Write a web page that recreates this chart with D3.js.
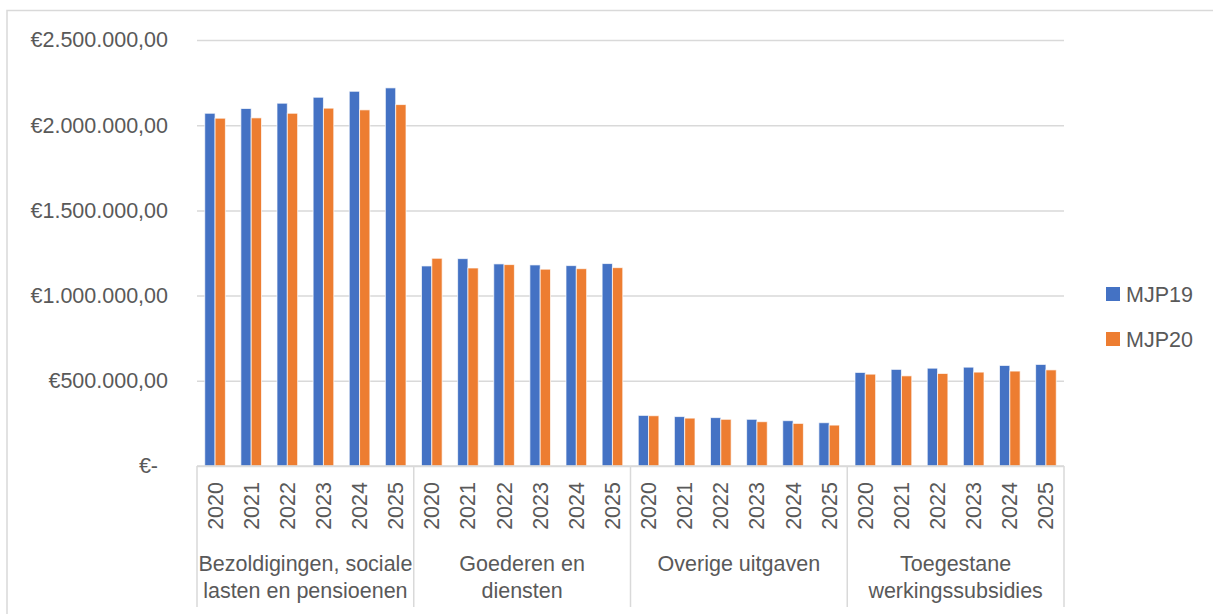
<!DOCTYPE html>
<html>
<head>
<meta charset="utf-8">
<script src="https://cdn.jsdelivr.net/npm/d3@7"></script>
<style>
  body { margin: 0; background: #fff; }
  text { font-family: "Liberation Sans", Arial, sans-serif; fill: #595959; }
</style>
</head>
<body>
<div id="chart"></div>
<script>
var groups = [
    ['Bezoldigingen, sociale', 'lasten en pensioenen'],
    ['Goederen en', 'diensten'],
    ['Overige uitgaven'],
    ['Toegestane', 'werkingssubsidies']
];
var years = ['2020', '2021', '2022', '2023', '2024', '2025'];
var series = ['MJP19', 'MJP20'];
var colors = ['#4472C4', '#ED7D31'];

// values per group, per year
var mjp19 = [
    [2070000, 2098000, 2129000, 2164000, 2199000, 2219000],
    [1174000, 1217000, 1186000, 1180000, 1176000, 1188000],
    [297000, 290000, 284000, 274000, 266000, 254000],
    [549000, 567000, 574000, 580000, 590000, 596000]
];
var mjp20 = [
    [2041000, 2043000, 2070000, 2100000, 2090000, 2121000],
    [1219000, 1162000, 1182000, 1155000, 1158000, 1164000],
    [295000, 281000, 274000, 260000, 250000, 240000],
    [539000, 529000, 543000, 551000, 557000, 564000]
];
var y_ticks = [0, 500000, 1000000, 1500000, 2000000, 2500000];

var W = 1213, H = 614;
var plot = {left: 197, right: 1064, top: 40, bottom: 466};

var svg = d3.select('#chart')
    .append('svg')
        .attr('width', W)
        .attr('height', H);

// chart frame
svg.append('rect')
    .attr('x', 7).attr('y', 10.5)
    .attr('width', W + 10).attr('height', H + 10)
    .attr('fill', 'none')
    .attr('stroke', '#d9d9d9')
    .attr('stroke-width', 1.5);

var y_scale = d3.scaleLinear()
    .domain([0, 2500000])
    .range([plot.bottom, plot.top]);

var x_group = d3.scaleBand()
    .domain(d3.range(groups.length))
    .range([plot.left, plot.right]);

var x_year = d3.scaleBand()
    .domain(years)
    .range([0, x_group.bandwidth()]);

var x_series = d3.scaleBand()
    .domain(series)
    .range([0, x_year.bandwidth()])
    .paddingOuter(0.75);

//grid
svg.append('g')
    .attr('class', 'grid')
    .attr('transform', 'translate(' + plot.left + ',0)')
    .call(d3.axisLeft(y_scale).tickValues(y_ticks).tickSize(-(plot.right - plot.left)).tickFormat(''))
    .call(function(g){
        g.select('.domain').remove();
        g.selectAll('line').attr('stroke', '#d9d9d9').attr('stroke-width', 1.5);
    });

//y labels
var euro = function(d){
    if(d === 0) return '€-';
    return '€' + d3.format(',.2f')(d).replace(/,/g, '#').replace('.', ',').replace(/#/g, '.');
};
svg.append('g')
    .attr('class', 'y-axis')
    .attr('transform', 'translate(168,0)')
    .call(d3.axisLeft(y_scale).tickValues(y_ticks).tickSize(0).tickPadding(0).tickFormat(euro))
    .call(function(g){
        g.select('.domain').remove();
        g.selectAll('text')
            .style('font-size', '21.5px')
            .attr('fill', '#595959')
            .attr('font-family', '"Liberation Sans", Arial, sans-serif')
            .attr('dx', function(d){ return d === 0 ? -10 : 0; });
    });

//bars
var rows = [];
groups.forEach(function(g, gi){
    years.forEach(function(yr, yi){
        rows.push({g: gi, year: yr, s: 'MJP19', v: mjp19[gi][yi]});
        rows.push({g: gi, year: yr, s: 'MJP20', v: mjp20[gi][yi]});
    });
});

svg.selectAll('rect.bar')
    .data(rows)
    .enter()
    .append('rect')
        .attr('class', 'bar')
        .attr('x', function(d){ return x_group(d.g) + x_year(d.year) + x_series(d.s); })
        .attr('y', function(d){ return y_scale(d.v); })
        .attr('width', x_series.bandwidth())
        .attr('height', function(d){ return y_scale(0) - y_scale(d.v); })
        .attr('fill', function(d){ return colors[series.indexOf(d.s)]; })
        .attr('stroke', '#fff')
        .attr('stroke-opacity', 0.7)
        .attr('stroke-width', 1);

//category axis
var axis_g = svg.append('g').attr('class', 'x-axis');
axis_g.append('line')
    .attr('x1', plot.left).attr('x2', plot.right)
    .attr('y1', plot.bottom).attr('y2', plot.bottom)
    .attr('stroke', '#d9d9d9').attr('stroke-width', 1.5);

var bounds = d3.range(groups.length).map(function(i){ return x_group(i); }).concat([plot.right]);
axis_g.selectAll('line.sep')
    .data(bounds)
    .enter()
    .append('line')
        .attr('class', 'sep')
        .attr('x1', function(d){ return d; }).attr('x2', function(d){ return d; })
        .attr('y1', plot.bottom).attr('y2', 607)
        .attr('stroke', '#d9d9d9').attr('stroke-width', 1.5);

groups.forEach(function(g, gi){
    axis_g.selectAll('text.yr' + gi)
        .data(years)
        .enter()
        .append('text')
            .attr('class', 'yr' + gi)
            .attr('transform', function(d){
                var cx = x_group(gi) + x_year(d) + x_year.bandwidth() / 2;
                return 'translate(' + cx + ',482)rotate(-90)';
            })
            .attr('text-anchor', 'end')
            .attr('dy', '0.35em')
            .style('font-size', '21.5px')
            .text(function(d){ return d; });

    var label = axis_g.append('text')
        .attr('text-anchor', 'middle')
        .attr('x', x_group(gi) + x_group.bandwidth() / 2)
        .attr('y', 571)
        .style('font-size', '21.5px');
    g.forEach(function(line, li){
        label.append('tspan')
            .attr('x', x_group(gi) + x_group.bandwidth() / 2)
            .attr('y', 571 + li * 27)
            .text(line);
    });
});

//legend
var legend = svg.append('g').attr('class', 'legend');
series.forEach(function(s, i){
    legend.append('rect')
        .attr('x', 1106).attr('y', 287 + i * 45)
        .attr('width', 14).attr('height', 14)
        .attr('fill', colors[i]);
    legend.append('text')
        .attr('x', 1126).attr('y', 294 + i * 45)
        .attr('dy', '0.35em')
        .style('font-size', '21.5px')
        .text(s);
});
</script>
</body>
</html>
